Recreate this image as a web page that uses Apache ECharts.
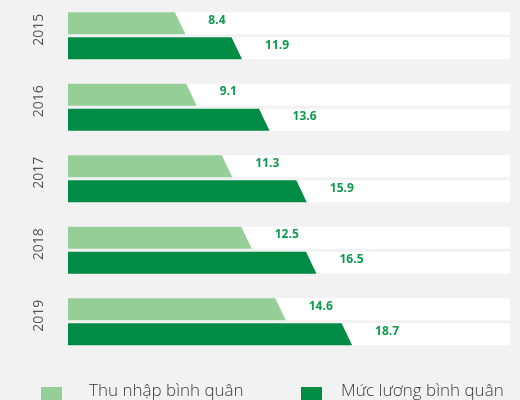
<!DOCTYPE html>
<html>
<head>
<meta charset="utf-8">
<script src="https://cdn.jsdelivr.net/npm/echarts@6/dist/echarts.min.js"></script>
<style>
  html, body { margin: 0; padding: 0; background: #f1f2f1; }
  #chart { width: 520px; height: 400px; }
</style>
</head>
<body>
<div id="chart"></div>
<script>
var years = ['2015', '2016', '2017', '2018', '2019'];
var thuNhap = [8.4, 9.1, 11.3, 12.5, 14.6];
var mucLuong = [11.9, 13.6, 15.9, 16.5, 18.7];
var seriesNames = ['Thu nhập bình quân', 'Mức lương bình quân'];

var colors = ['#95ce96', '#008c45'];

function makeRender(side) {
    // side: -1 = upper bar (light), 1 = lower bar (dark)
    return function (params, api) {
        var cs = params.coordSys;
        var val = api.value(0);
        var cat = api.value(1);
        var c = api.coord([val, cat]);
        var y0 = side < 0 ? c[1] - 23.5 : c[1] + 1.5;
        var h = 22;
        var x0 = cs.x;
        var xv = c[0];
        var slant = 10.5;
        return {
            type: 'group',
            children: [
                {
                    type: 'rect',
                    shape: { x: x0, y: y0, width: cs.width, height: h },
                    style: { fill: '#ffffff' },
                    silent: true
                },
                {
                    type: 'polygon',
                    shape: { points: [[x0, y0], [xv, y0], [xv + slant, y0 + h], [x0, y0 + h]] },
                    style: { fill: api.visual('color') }
                },
                {
                    type: 'text',
                    style: {
                        text: val.toFixed(1),
                        x: xv + slant + 23,
                        y: y0 + h / 2 - 3,
                        verticalAlign: 'middle',
                        align: 'left',
                        fill: '#0e9a4d',
                        font: 'bold 12px "Open Sans"'
                    }
                }
            ]
        };
    };
}

function toData(arr) {
    return arr.map(function (v, i) { return [v, i]; });
}

var legendName = {
    fontSize: 17,
    color: '#3a3a3a',
    fontFamily: 'Open Sans',
    fontWeight: 300,
    lineHeight: 29,
    verticalAlign: 'top'
};

var myChart = echarts.init(document.getElementById('chart'));

var option = {
    backgroundColor: '#f1f2f1',
    animation: false,
    color: colors,
    grid: { left: 68, right: 10, top: -2.5, height: 360 },
    legend: [
        {
            data: [seriesNames[0]],
            left: 36, top: 377.5,
            icon: 'rect',
            itemWidth: 21, itemHeight: 20,
            formatter: '{s|}{a|{name}}',
            textStyle: {
                rich: { s: { width: 22 }, a: legendName }
            }
        },
        {
            data: [seriesNames[1]],
            left: 296, top: 377.5,
            icon: 'rect',
            itemWidth: 21, itemHeight: 20,
            formatter: '{s|}{a|{name}}',
            textStyle: {
                rich: { s: { width: 14 }, a: legendName }
            }
        }
    ],
    xAxis: {
        type: 'value',
        min: 1.8,
        max: 29.1,
        show: false
    },
    yAxis: {
        type: 'category',
        data: years,
        inverse: true,
        axisLine: { show: false },
        axisTick: { show: false },
        splitLine: { show: false },
        axisLabel: {
            rotate: 90,
            margin: 22,
            fontSize: 14,
            color: '#555555',
            fontFamily: 'Open Sans',
            padding: [0, 0, 0, 12]
        }
    },
    series: [
        {
            name: seriesNames[0],
            type: 'custom',
            renderItem: makeRender(-1),
            encode: { x: 0, y: 1 },
            itemStyle: { color: colors[0] },
            data: toData(thuNhap)
        },
        {
            name: seriesNames[1],
            type: 'custom',
            renderItem: makeRender(1),
            encode: { x: 0, y: 1 },
            itemStyle: { color: colors[1] },
            data: toData(mucLuong)
        }
    ]
};

myChart.setOption(option);
window.addEventListener('resize', function () { myChart.resize(); });
</script>
</body>
</html>
